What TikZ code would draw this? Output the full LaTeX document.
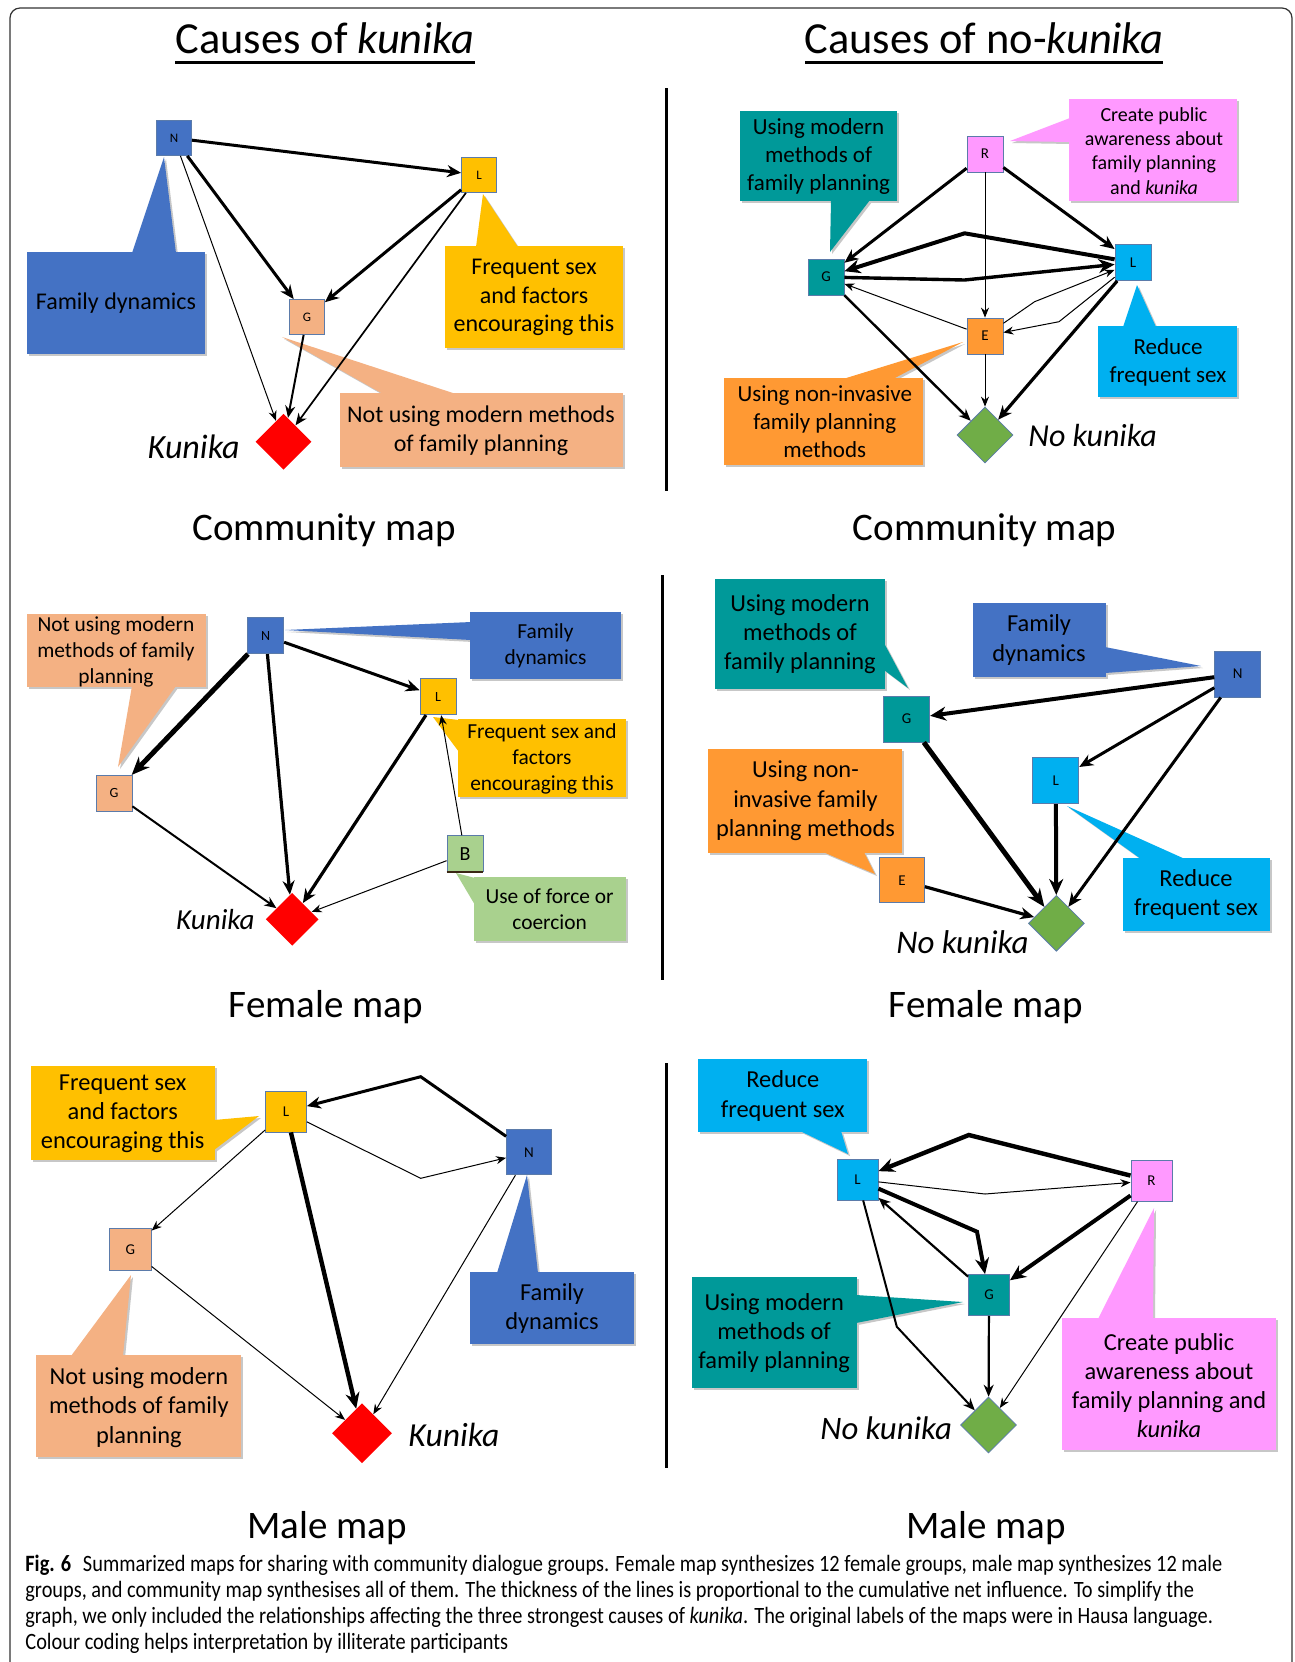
\documentclass[tikz,border=0pt]{standalone}
\usepackage{fontspec}
\setmainfont{Carlito}
\newfontfamily\capfont[FakeStretch=0.87]{Carlito}
\usetikzlibrary{shapes.geometric,arrows.meta,calc}
\definecolor{cblue}{HTML}{4472C4}
\definecolor{cgold}{HTML}{FFC000}
\definecolor{cpeach}{HTML}{F4B183}
\definecolor{cred}{HTML}{FF0000}
\definecolor{cteal}{HTML}{009999}
\definecolor{ccyan}{HTML}{00B0F0}
\definecolor{corange}{HTML}{FF9933}
\definecolor{cpink}{HTML}{FF99FF}
\definecolor{cgreen}{HTML}{70AD47}
\definecolor{clgreen}{HTML}{A9D18E}
\definecolor{cedge}{HTML}{5B7BAA}
\newcommand\mycallout[3]{%
  \fill[black!22, shift={(2,2)}] #2; \fill[black!22, shift={(2,2)}] #3;
  \fill[#1] #2; \fill[#1] #3;}
\tikzset{
  sq/.style={draw=cedge, line width=0.4pt, minimum width=#1, minimum height=#1, inner sep=0pt},
  lab/.style={font=\fontsize{#1}{#1}\selectfont},
  dm/.style={diamond, minimum width=#1, minimum height=#1, inner sep=0pt},
  klab/.style={inner sep=0pt, font=\fontsize{#1}{#1}\selectfont\itshape},
  ctA/.style={align=center, font=\fontsize{12}{14.3}\selectfont},
  ctB/.style={align=center, font=\fontsize{11.5}{14}\selectfont},
  ctC/.style={align=center, font=\fontsize{10}{12.1}\selectfont},
  ctD/.style={align=center, font=\fontsize{10.7}{13}\selectfont},
  ctE/.style={align=center, font=\fontsize{12.2}{14.6}\selectfont},
  e1/.style={line width=0.5pt, -{Stealth[length=5pt,width=4pt]}},
  e2/.style={line width=1pt, -{Stealth[length=6pt,width=5pt]}},
  e3/.style={line width=1.5pt, -{Stealth[length=7pt,width=6pt]}},
  e4/.style={line width=2pt, -{Stealth[length=8pt,width=7pt]}},
  e5/.style={line width=2.5pt, -{Stealth[length=9pt,width=7.5pt]}},
  ptitle/.style={font=\fontsize{19.5}{23}\selectfont},
  htitle/.style={font=\fontsize{22.2}{26}\selectfont, anchor=base},
  uline/.style={line width=1.5pt},
  divider/.style={line width=1.5pt},
}
\begin{document}
\begin{tikzpicture}[x=0.5pt,y=-0.5pt]
\useasboundingbox (0,0) rectangle (1295,1662);
\fill[white] (0,0) rectangle (1295,1662);
\draw[line width=0.6pt, black!80, rounded corners=5pt] (10,8) rectangle (1292,1720);

% headings
\node[htitle] (h1) at (325,53.5) {Causes of \textit{kunika}};
\node[htitle] (h2) at (984,53.5) {Causes of no-\textit{kunika}};
\draw[uline] (175,62) -- (475,62);
\draw[uline] (805,62) -- (1163,62);

% dividers
\draw[divider] (666,88) -- (666,491);
\draw[divider] (662,575) -- (662,980);
\draw[divider] (666,1063) -- (666,1468);

% panel titles
\node[ptitle] (p1) at (324,530) {Community map};
\node[ptitle] (p2) at (984.5,530) {Community map};
\node[ptitle] (p3) at (326,1007) {Female map};
\node[ptitle] (p4) at (986,1007) {Female map};
\node[ptitle] (p5) at (327,1528) {Male map};
\node[ptitle] (p6) at (986,1528) {Male map};

%================ top-left =================
\mycallout{cblue}{(27,252) rectangle (205,354)}{(132,253) -- (164,157) -- (176,253) -- cycle}
\mycallout{cgold}{(445,246) rectangle (623,348)}{(476,247) -- (483,194) -- (518,247) -- cycle}
\mycallout{cpeach}{(340,393) rectangle (623,467)}{(383,394) -- (282,337) -- (456,394) -- cycle}
\node[ctA] (t11) at (116,303) {Family dynamics};
\node[ctA] (t12) at (534,297.5) {Frequent sex\\and factors\\encouraging this};
\node[ctA] (t13) at (481,431) {Not using modern methods\\of family planning};

\node[sq=17.5pt, fill=cblue, lab=6.5] (N1) at (174,138) {N};
\node[sq=17.5pt, fill=cgold, lab=6.5] (L1) at (479,175) {L};
\node[sq=17.5pt, fill=cpeach, lab=6.5] (G1) at (307,317) {G};
\node[dm=28pt, fill=cred] (K1) at (283.5,441.7) {};
\node[anchor=east, klab=17] (k1) at (240,447) {Kunika};
\draw[e3] (N1) -- (L1);
\draw[e3] (N1) -- (G1);
\draw[e3] (L1) -- (G1);
\draw[e1] (N1) -- (K1);
\draw[e2] (G1) -- (K1);
\draw[e2, line width=0.85pt] (L1) -- (K1);

%================ top-right =================
\mycallout{cteal}{(740,111) rectangle (897,201)}{(831,200) -- (830,252) -- (870,200) -- cycle}
\mycallout{cpink}{(1069,99) rectangle (1237,201)}{(1070,118) -- (1010,141) -- (1070,142) -- cycle}
\mycallout{corange}{(724,378) rectangle (923,465)}{(843,379) -- (963,342) -- (893,379) -- cycle}
\mycallout{ccyan}{(1098,326) rectangle (1237,397)}{(1123,327) -- (1137,285) -- (1156,327) -- cycle}
\node[ctB] (t21) at (818.6,156) {Using modern\\methods of\\family planning};
\node[ctC] (t22) at (1154,151) {Create public\\awareness about\\family planning\\and \textit{kunika}};
\node[ctB] (t23) at (824.8,421.7) {Using non-invasive\\family planning\\methods};
\node[ctB] (t24) at (1168,362) {Reduce\\frequent sex};

\node[sq=18pt, fill=cpink, lab=7.5] (R2) at (985,154) {R};
\node[sq=18pt, fill=cteal, lab=7.5] (G2) at (826,277) {G};
\node[sq=18pt, fill=ccyan, lab=7.5] (L2) at (1133,262.5) {L};
\node[sq=18pt, fill=corange, lab=7.5] (E2) at (985,336) {E};
\node[dm=28pt, fill=cgreen, draw=cedge, line width=0.4pt] (D2) at (985,435) {};
\node[anchor=west, klab=16] (k2) at (1028,435) {No kunika};
\coordinate (b1) at (964.6,233.3);
\coordinate (b2) at (964.6,280);
\coordinate (b3) at (1034.6,301.7);
\coordinate (b4) at (1059,321.7);
\draw[e3] (R2) -- (G2);
\draw[e3] (R2) -- (L2);
\draw[e1] (R2) -- (E2);
\draw[e4] (L2) -- (b1) -- (G2);
\draw[e4, line width=1.7pt] (G2) -- (b2) -- (L2);
\draw[e1] (E2) -- (G2);
\draw[e1] (E2) -- (b3) -- (L2);
\draw[e1] (L2) -- (b4) -- (E2);
\draw[e2, line width=1.2pt] (G2) -- (D2);
\draw[e1] (E2) -- (D2);
\draw[e3, line width=1.6pt] (L2) -- (D2);

%================ middle-left =================
\mycallout{cpeach}{(27,614) rectangle (206,687)}{(132,686) -- (118,767) -- (176,686) -- cycle}
\mycallout{cblue}{(470,612) rectangle (621,679)}{(471,622) -- (285,630) -- (471,640) -- cycle}
\mycallout{cgold}{(458,719) rectangle (626,797)}{(459,720) -- (433,717) -- (459,752) -- cycle}
\mycallout{clgreen}{(474,877) rectangle (626,941)}{(475,878) -- (456,873) -- (475,905) -- cycle}
\node[ctD] (t31) at (116,651.5) {Not using modern\\methods of family\\planning};
\node[ctD] (t32) at (545.5,646) {Family\\dynamics};
\node[ctD] (t33) at (542,759) {Frequent sex and\\factors\\encouraging this};
\node[ctD] (t34) at (549.6,909.7) {Use of force or\\coercion};

\node[sq=18pt, fill=cblue, lab=7] (N3) at (265.7,635.7) {N};
\node[sq=18pt, fill=cgold, lab=7] (L3) at (438,696.7) {L};
\node[sq=18pt, fill=cpeach, lab=7] (G3) at (114,793.3) {G};
\node[sq=18pt, fill=clgreen, lab=10] (B3) at (465,853.7) {B};
\draw[line width=1pt, black!70!brown] (B3.south west) -- (B3.south east);
\node[dm=26.5pt, fill=cred] (K3) at (292.2,919.3) {};
\node[anchor=east, klab=14.5] (k3) at (255,920) {Kunika};
\draw[e5] (N3) -- (G3);
\draw[e3, line width=1.6pt] (N3) -- (K3);
\draw[e3] (N3) -- (L3);
\draw[e3, line width=1.6pt] (L3) -- (K3);
\draw[e2] (G3) -- (K3);
\draw[e1] (B3) -- (L3);
\draw[e1] (B3) -- (K3);

%================ middle-right =================
\mycallout{cteal}{(715,579) rectangle (885,689)}{(884,643) -- (908,688) -- (884,670) -- cycle}
\mycallout{cblue}{(973,603) rectangle (1106,677)}{(1105,647) -- (1201,666) -- (1105,673) -- cycle}
\mycallout{corange}{(708,749) rectangle (902,853)}{(823,852) -- (875,874) -- (864,852) -- cycle}
\mycallout{ccyan}{(1123,858) rectangle (1270,931)}{(1141,859) -- (1067,806) -- (1185,859) -- cycle}
\node[ctE] (t41) at (800,634) {Using modern\\methods of\\family planning};
\node[ctE] (t42) at (1039,640) {Family\\dynamics};
\node[ctE] (t43) at (805.5,800.8) {Using non-\\invasive family\\planning methods};
\node[ctE] (t44) at (1196,894.7) {Reduce\\frequent sex};

\node[sq=23pt, fill=cblue, lab=7.5] (N4) at (1237.7,674) {N};
\node[sq=23pt, fill=cteal, lab=7.5] (G4) at (906.7,719) {G};
\node[sq=23pt, fill=ccyan, lab=7.5] (L4) at (1055.8,780.7) {L};
\node[sq=22.5pt, fill=corange, lab=7.5] (E4) at (902,880.3) {E};
\node[dm=28pt, fill=cgreen, draw=cedge, line width=0.4pt] (D4) at (1056.4,923.3) {};
\node[anchor=east, klab=16.5] (k4) at (1029,941.7) {No kunika};
\draw[e4] (N4) -- (G4);
\draw[e3] (N4) -- (L4);
\draw[e3] (N4) -- (D4);
\draw[e5] (G4) -- (D4);
\draw[e4] (L4) -- (D4);
\draw[e3, line width=1.6pt] (E4) -- (D4);

%================ bottom-left =================
\mycallout{cgold}{(31,1066) rectangle (215,1160)}{(214,1120) -- (259,1116) -- (214,1150) -- cycle}
\mycallout{cblue}{(470,1272) rectangle (634,1344)}{(497,1273) -- (527,1175) -- (538,1273) -- cycle}
\mycallout{cpeach}{(36,1355) rectangle (241,1457)}{(71,1356) -- (131,1275) -- (123,1356) -- cycle}
\node[ctE] (t51) at (122.7,1114) {Frequent sex\\and factors\\encouraging this};
\node[ctE] (t52) at (552,1308.7) {Family\\dynamics};
\node[ctE] (t53) at (138.9,1407.5) {Not using modern\\methods of family\\planning};

\node[sq=20.5pt, fill=cgold, lab=7.5] (L5) at (286,1111.5) {L};
\node[sq=22.5pt, fill=cblue, lab=7.5] (N5) at (529,1152.3) {N};
\node[sq=21pt, fill=cpeach, lab=7.5] (G5) at (130.3,1249.5) {G};
\node[dm=30pt, fill=cred] (K5) at (362,1433.3) {};
\node[anchor=west, klab=16.8] (k5) at (408,1435) {Kunika};
\coordinate (b5) at (420.7,1076.7);
\coordinate (b6) at (420.7,1178.3);
\draw[e3] (N5) -- (b5) -- (L5);
\draw[e1] (L5) -- (b6) -- (N5);
\draw[e1] (L5) -- (G5);
\draw[e4, line width=2.2pt] (L5) -- (K5);
\draw[e1] (G5) -- (K5);
\draw[e1] (N5) -- (K5);

%================ bottom-right =================
\mycallout{ccyan}{(698,1059) rectangle (867,1132)}{(800,1131) -- (848,1154) -- (841,1131) -- cycle}
\mycallout{cteal}{(692,1277) rectangle (857,1388)}{(856,1295) -- (963,1302) -- (856,1323) -- cycle}
\mycallout{cpink}{(1062,1318) rectangle (1276,1450)}{(1098,1319) -- (1154,1208) -- (1153,1319) -- cycle}
\node[ctE] (t61) at (782.8,1096) {Reduce\\frequent sex};
\node[ctE] (t62) at (774.2,1333) {Using modern\\methods of\\family planning};
\node[ctE] (t63) at (1169,1385.5) {Create public\\awareness about\\family planning and\\\textit{kunika}};

\node[sq=20.5pt, fill=ccyan, lab=7.5] (L6) at (857.6,1179.5) {L};
\node[sq=20.5pt, fill=cpink, lab=7.5] (R6) at (1151.4,1180.8) {R};
\node[sq=20.5pt, fill=cteal, lab=7.5] (G6) at (989,1295) {G};
\node[dm=28pt, fill=cgreen, draw=cedge, line width=0.4pt] (D6) at (988.5,1425) {};
\node[anchor=east, klab=16.4] (k6) at (952.3,1428.3) {No kunika};
\coordinate (b7) at (968.8,1135);
\coordinate (b8) at (985,1194);
\coordinate (b9) at (977,1231.7);
\coordinate (b10) at (896.8,1326.7);
\draw[e4, line width=2.2pt] (R6) -- (b7) -- (L6);
\draw[e1] (L6) -- (b8) -- (R6);
\draw[e4] (L6) -- (b9) -- (G6);
\draw[e2, line width=1.1pt] (G6) -- (L6);
\draw[e4] (R6) -- (G6);
\draw[e2] (L6) -- (b10) -- (D6);
\draw[e2, line width=1.1pt] (G6) -- (D6);
\draw[e1] (R6) -- (D6);

% caption
\node[anchor=north west, align=left, inner sep=0pt, font=\capfont\fontsize{11.7}{13}\selectfont] (cap) at (25,1555)
{\textbf{Fig. 6}\enspace Summarized maps for sharing with community dialogue groups. Female map synthesizes 12 female groups, male map synthesizes 12 male\\
groups, and community map synthesises all of them. The thickness of the lines is proportional to the cumulative net influence. To simplify the\\
graph, we only included the relationships affecting the three strongest causes of \textit{kunika}. The original labels of the maps were in Hausa language.\\
Colour coding helps interpretation by illiterate participants};
\end{tikzpicture}
\end{document}
